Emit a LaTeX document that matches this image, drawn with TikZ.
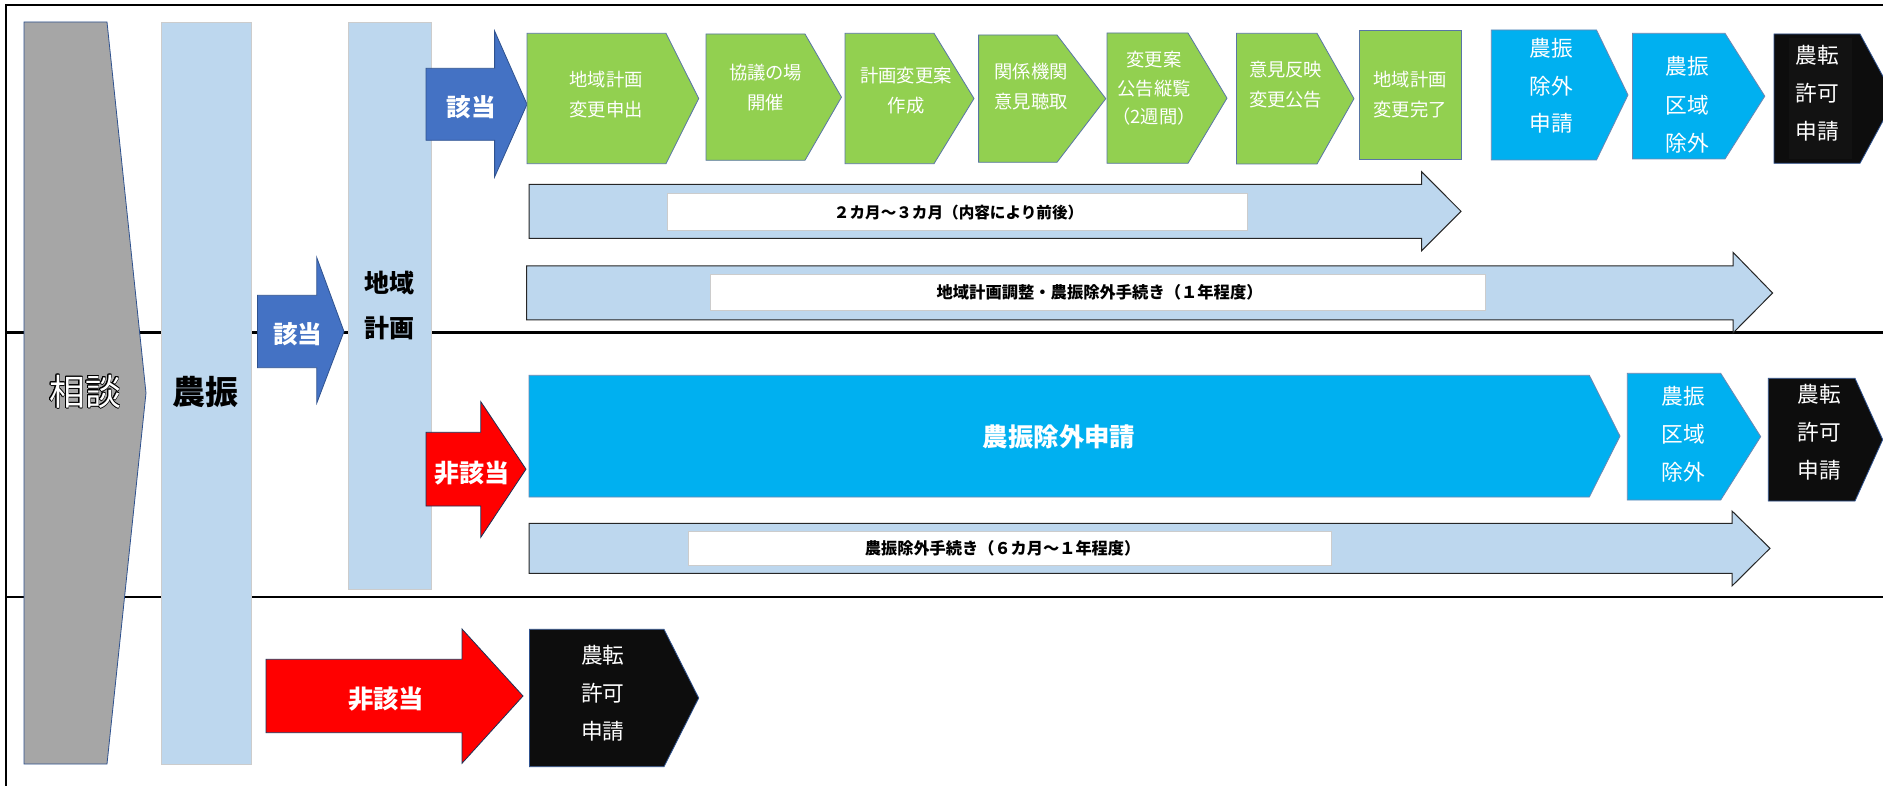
\documentclass[tikz,border=0pt]{standalone}
\usepackage{fontspec}
\setmainfont{Noto Sans CJK JP}
\usepackage[copies]{contour}
\contourlength{0.7pt}
\definecolor{cgray}{HTML}{A6A6A6}
\definecolor{colblue}{HTML}{BDD7EE}
\definecolor{arrblue}{HTML}{4472C4}
\definecolor{cgreen}{HTML}{92D050}
\definecolor{ccyan}{HTML}{00B0F0}
\definecolor{cblack}{HTML}{0D0D0D}
\definecolor{cred}{HTML}{FF0000}
\definecolor{edgeblue}{HTML}{2F528F}
\newcommand\hplate[6]{\path[#1] (#2,#3) -- (#5,#3) -- (#6,{(#3+#4)/2}) -- (#5,#4) -- (#2,#4) -- cycle;}
\newcommand\blkarrow[8]{\path[#1] (#2,#3) -- (#5,#3) -- (#5,#6) -- (#8,{(#3+#4)/2}) -- (#5,#7) -- (#5,#4) -- (#2,#4) -- cycle;}
\tikzset{
  frameline/.style={line width=2.6pt, draw=black},
  grayshape/.style={fill=cgray, draw=edgeblue, line width=0.8pt},
  column/.style={fill=colblue, draw=black!20, line width=0.8pt},
  bluearrow/.style={fill=arrblue, draw=edgeblue, line width=0.8pt},
  redarrow/.style={fill=cred, draw=edgeblue!60!black, line width=0.8pt},
  greenbox/.style={fill=cgreen, draw=edgeblue!80, line width=0.8pt},
  cyanbox/.style={fill=ccyan, draw=edgeblue!70, line width=0.8pt},
  blackbox/.style={fill=cblack, draw=edgeblue, line width=0.8pt},
  timeline/.style={fill=colblue, draw=black!85, line width=1pt},
  whitebox/.style={fill=white, draw=black!20, line width=0.6pt},
  steptext/.style={text=white, align=center, inner sep=0pt, font=\fontsize{18.3}{30}\selectfont},
  bigtext/.style={text=white, align=center, inner sep=0pt, font=\fontsize{21.7}{38.3}\selectfont},
  arrtext/.style={text=white, inner sep=0pt, font=\bfseries\fontsize{24.5}{28}\selectfont},
  coltext/.style={text=black, align=center, inner sep=0pt, font=\bfseries\fontsize{25}{45}\selectfont},
  durtext/.style={text=black, inner sep=0pt, font=\bfseries\fontsize{15.6}{18}\selectfont},
}
\begin{document}
\begin{tikzpicture}[x=1pt,y=-1pt]
\path[use as bounding box, clip] (0,0) rectangle (1883,786);
\fill[white] (0,0) rectangle (1883,786);
% frame
\draw[frameline] (6,786) -- (6,5) -- (1883,5);
\draw[frameline] (6,332.5) -- (1883,332.5);
\draw[frameline] (6,597) -- (1883,597);
% left columns
\path[grayshape] (24,22) -- (107,22) -- (146,393) -- (107,764) -- (24,764) -- cycle;
\path[column] (161,22) rectangle (251,764);
\path[column] (348,22) rectangle (431,589);
\node (soudan) at (85,392) {\fontsize{36}{40}\selectfont\contour{black}{\textcolor{white}{相談}}};
\node[text=black, inner sep=0pt, font=\bfseries\fontsize{33}{36}\selectfont] (noushin) at (205,392) {農振};
\node[coltext] (chiiki) at (389,305) {地域\\計画};
% arrows
\blkarrow{bluearrow}{426}{68.3}{140.3}{494.6}{31}{177}{527}
\node[arrtext] (gaitou1) at (471,107) {該当};
\blkarrow{bluearrow}{257.5}{295.3}{367.7}{316.8}{257.7}{403}{344}
\node[arrtext] (gaitou2) at (297.5,334.5) {該当};
\blkarrow{redarrow}{426}{432.3}{506}{480.8}{401.7}{537.3}{526}
\node[arrtext, font=\bfseries\fontsize{25}{28}\selectfont] (higai1) at (472,473) {非該当};
\blkarrow{redarrow}{266}{659.3}{732.7}{462}{629}{763.3}{523}
\node[arrtext, font=\bfseries\fontsize{25.3}{28}\selectfont] (higai2) at (386,699) {非該当};
% green steps
\hplate{greenbox}{527}{33.3}{163.7}{666}{698.7}
\node[steptext] (g1) at (606,94.2) {地域計画\\変更申出};
\hplate{greenbox}{706}{34}{160.3}{805}{841.5}
\node[steptext] (g2) at (765.6,87.5) {協議の場\\開催};
\hplate{greenbox}{845}{33.3}{163.7}{934}{974}
\node[steptext] (g3) at (906,90.8) {計画変更案\\作成};
\hplate{greenbox}{978.6}{35}{162.3}{1057}{1105.8}
\node[steptext] (g4) at (1031,86.7) {関係機関\\意見聴取};
\hplate{greenbox}{1107}{33}{163.3}{1188}{1227}
\node[steptext, font=\fontsize{18.3}{28.3}\selectfont] (g5) at (1154,88.3) {変更案\\公告縦覧\\（2週間）};
\hplate{greenbox}{1236.5}{33.3}{164}{1317}{1354}
\node[steptext] (g6) at (1285.6,84.2) {意見反映\\変更公告};
\path[greenbox] (1359.4,30.7) rectangle (1461.4,159.3);
\node[steptext] (g7) at (1410,95) {地域計画\\変更完了};
% top right blue/black
\hplate{cyanbox}{1491.3}{30}{160}{1596.5}{1628}
\node[bigtext, font=\fontsize{21.7}{37.5}\selectfont] (b1) at (1551,85.8) {農振\\除外\\申請};
\hplate{cyanbox}{1632.5}{33.3}{159}{1725}{1764.8}
\node[bigtext] (b2) at (1687.6,105) {農振\\区域\\除外};
\hplate{blackbox}{1774}{34}{163.3}{1860}{1895}
\fill[black!93] (1789,38) rectangle (1852,159);
\node[bigtext] (k1) at (1817.6,93.3) {農転\\許可\\申請};
% timeline arrows
\blkarrow{timeline}{529}{184.3}{238.3}{1421.6}{171.7}{250.7}{1461}
\path[whitebox] (667.6,193.3) rectangle (1247,230.7);
\node[durtext] (d1) at (958.6,212.5) {２カ月～３カ月（内容により前後）};
\blkarrow{timeline}{526.5}{266}{320}{1733}{252.3}{333}{1772.6}
\path[whitebox] (710,274.3) rectangle (1485,310.7);
\node[durtext, font=\bfseries\fontsize{16.3}{18}\selectfont] (d2) at (1099.6,292.5) {地域計画調整・農振除外手続き（１年程度）};
% middle row
\hplate{cyanbox}{529}{375.3}{497}{1589.3}{1620}
\node[text=white, inner sep=0pt, font=\bfseries\fontsize{25.4}{28}\selectfont] (b3) at (1059,437) {農振除外申請};
\hplate{cyanbox}{1627.3}{373.3}{500}{1720.7}{1760.7}
\node[bigtext, font=\fontsize{21.7}{38}\selectfont] (b4) at (1683.3,433.8) {農振\\区域\\除外};
\hplate{blackbox}{1768.3}{378.3}{501}{1855}{1882.7}
\node[bigtext, font=\fontsize{21.7}{37.8}\selectfont] (k2) at (1819,432.1) {農転\\許可\\申請};
\blkarrow{timeline}{529}{523.3}{573.3}{1732}{511}{586}{1770}
\path[whitebox] (687.8,531.7) rectangle (1331.6,565);
\node[durtext, font=\bfseries\fontsize{16.2}{18}\selectfont] (d3) at (1002.6,548.3) {農振除外手続き（６カ月～１年程度）};
% bottom row
\hplate{blackbox}{529.5}{629.3}{766.7}{664}{698.7}
\node[bigtext] (k3) at (602.7,693.3) {農転\\許可\\申請};
\end{tikzpicture}
\end{document}
